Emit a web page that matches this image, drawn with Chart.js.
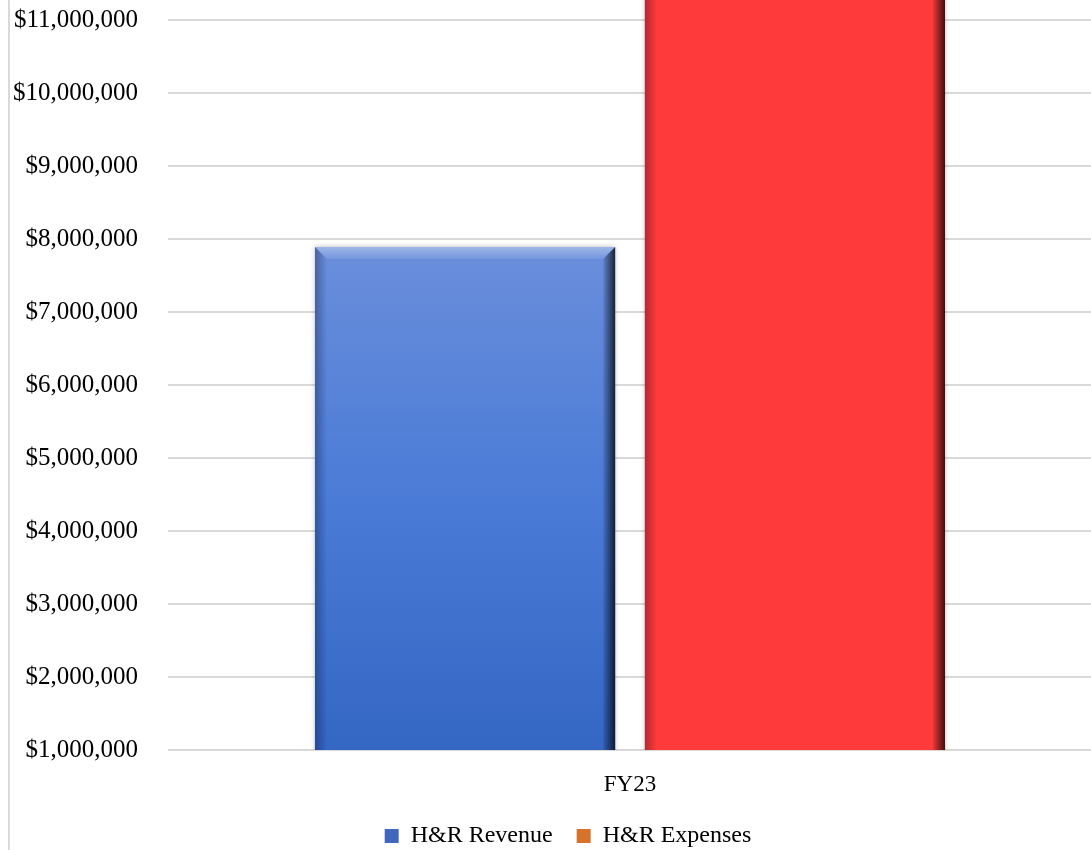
<!DOCTYPE html>
<html>
<head>
<meta charset="utf-8">
<script src="https://cdn.jsdelivr.net/npm/chart.js@4.4.0/dist/chart.umd.min.js"></script>
<style>
  html, body { margin: 0; padding: 0; background: #fff; overflow: hidden; }
  .frame { position: absolute; left: 8px; top: 0; width: 1112px; height: 858px; border-left: 2px solid #d9d9d9; }
  #chart { display: block; }
</style>
</head>
<body>
<div class="frame"><canvas id="chart"></canvas></div>
<script>
// Chart data
const categories = ['FY23'];
const seriesNames = ['H&R Revenue', 'H&R Expenses'];
const revenue = [7890000];
const expenses = [12100000];
const yTicks = [1000000, 2000000, 3000000, 4000000, 5000000, 6000000,
                7000000, 8000000, 9000000, 10000000, 11000000];
const yMin = 1000000;
const yMax = 11275000;
const legendColors = ['#3f68bd', '#d5732c'];

const SERIF = '"Liberation Serif", "Times New Roman", serif';
const FONT = { family: SERIF, size: 23 };
const TICK_FONT = { family: SERIF, size: 25 };
const LEGEND_FONT = { family: SERIF, size: 24 };

// Blue bar gradient, top of bar lighter than base
function blueFill(c) {
  const chart = c.chart;
  const area = chart.chartArea;
  if (!area) return '#4a78d4';
  const top = chart.scales.y.getPixelForValue(c.raw);
  const g = chart.ctx.createLinearGradient(0, top, 0, area.bottom);
  g.addColorStop(0, '#6a8edb');
  g.addColorStop(0.5, '#4a7bd6');
  g.addColorStop(1, '#3466c4');
  return g;
}

// Bevel + soft shadow on each bar
function band(ctx, pts, x0, y0, x1, y1, c0, c1) {
  const g = ctx.createLinearGradient(x0, y0, x1, y1);
  g.addColorStop(0, c0);
  g.addColorStop(1, c1);
  ctx.fillStyle = g;
  ctx.beginPath();
  ctx.moveTo(pts[0][0], pts[0][1]);
  for (let i = 1; i < pts.length; i++) ctx.lineTo(pts[i][0], pts[i][1]);
  ctx.closePath();
  ctx.fill();
}

const bevelPlugin = {
  id: 'bevel',
  beforeDatasetDraw(chart) {
    const ctx = chart.ctx;
    ctx.save();
    ctx.shadowColor = 'rgba(0,0,0,0.3)';
    ctx.shadowBlur = 5;
  },
  afterDatasetDraw(chart, args) {
    const ctx = chart.ctx;
    ctx.restore();
    const area = chart.chartArea;
    ctx.save();
    ctx.beginPath();
    ctx.rect(area.left, area.top, area.width, area.height);
    ctx.clip();
    args.meta.data.forEach(bar => {
      const p = bar.getProps(['x', 'y', 'base', 'width'], true);
      const l = p.x - p.width / 2, r = p.x + p.width / 2, t = p.y, b = p.base;
      const s = 12;
      // top highlight
      band(ctx, [[l, t], [r, t], [r - s, t + s], [l + s, t + s]], 0, t, 0, t + s,
        'rgba(255,255,255,0.35)', 'rgba(255,255,255,0.08)');
      // left
      band(ctx, [[l, t], [l + s, t + s], [l + s, b - s], [l, b]], l, 0, l + s, 0,
        'rgba(0,0,30,0.3)', 'rgba(0,0,30,0.0)');
      // right
      band(ctx, [[r, t], [r, b], [r - s, b - s], [r - s, t + s]], r, 0, r - s, 0,
        'rgba(0,0,0,0.75)', 'rgba(0,0,0,0.08)');
      // bottom
      band(ctx, [[l, b], [r, b], [r - s, b - s], [l + s, b - s]], 0, b, 0, b - s,
        'rgba(0,0,0,0.5)', 'rgba(0,0,0,0.05)');
    });
    ctx.restore();
  }
};

// The legend sits a little right of the canvas centre
const legendShift = {
  id: 'legendShift',
  afterLayout(chart) {
    if (chart.legend) {
      chart.legend.left += 17;
      chart.legend.right += 17;
    }
  }
};

const ctx = document.getElementById('chart').getContext('2d');
new Chart(ctx, {
  type: 'bar',
  data: {
    labels: categories,
    datasets: [
      { label: seriesNames[0], data: revenue, backgroundColor: blueFill },
      { label: seriesNames[1], data: expenses, backgroundColor: '#ff3a3a' }
    ]
  },
  plugins: [bevelPlugin, legendShift],
  options: {
    responsive: true,
    maintainAspectRatio: false,
    animation: false,
    categoryPercentage: 0.714,
    barPercentage: 0.91,
    layout: { padding: { left: 0, right: 30, top: 0, bottom: 0 } },
    plugins: {
      tooltip: { enabled: false },
      legend: {
        position: 'bottom',
        labels: {
          font: LEGEND_FONT,
          color: '#000',
          boxWidth: 14,
          boxHeight: 14,
          padding: 24,
          generateLabels(chart) {
            return chart.data.datasets.map((ds, i) => ({
              text: ds.label,
              fillStyle: legendColors[i],
              strokeStyle: legendColors[i],
              lineWidth: 0,
              fontColor: '#000',
              hidden: !chart.isDatasetVisible(i),
              datasetIndex: i
            }));
          }
        }
      }
    },
    scales: {
      x: {
        grid: { display: false, drawTicks: false },
        border: { display: false },
        ticks: { font: FONT, color: '#000', padding: 21 },
        afterFit(scale) { scale.height = 50; }
      },
      y: {
        min: yMin,
        max: yMax,
        grid: { color: '#d9d9d9', lineWidth: 2, drawTicks: false },
        border: { display: false },
        ticks: {
          font: TICK_FONT,
          color: '#000',
          padding: 30,
          callback: v => '$' + v.toLocaleString('en-US')
        },
        afterBuildTicks(scale) { scale.ticks = yTicks.map(v => ({ value: v })); },
        afterFit(scale) {
          scale.width = 158;
          scale.paddingTop = 0;
          scale.paddingBottom = 0;
        }
      }
    }
  }
});
</script>
</body>
</html>
